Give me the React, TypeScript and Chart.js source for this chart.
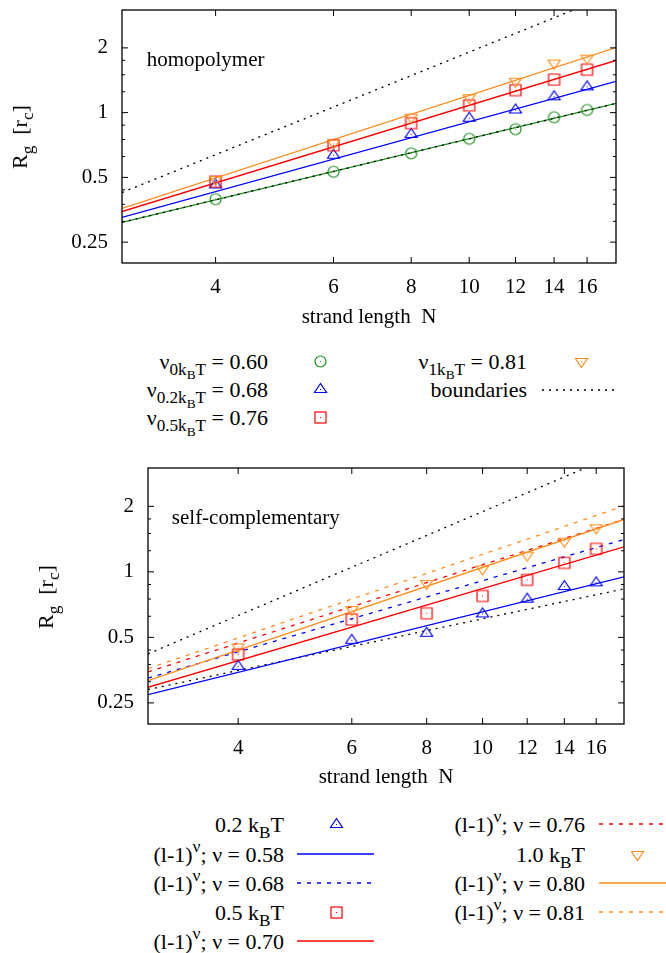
import React, { useEffect, useRef } from 'react';
import { Chart, registerables } from 'chart.js';

Chart.register(...registerables);

// ---------------- data ----------------
const N_VALUES = [4, 6, 8, 10, 12, 14, 16];
const N_TICKS = [4, 6, 8, 10, 12, 14, 16];
const N_RANGE = [3, 18];
const FIT_N = [3, 18];
const Y_TICKS = [0.25, 0.5, 1, 2];
const Y_MINOR = [0.3125, 0.375, 0.4375, 0.625, 0.75, 0.875, 1.25, 1.5, 1.75];
const Y_RANGE = [0.2, 3];

// homopolymer
const HOMO_0 = [0.396, 0.531, 0.647, 0.756, 0.838, 0.952, 1.029];
const HOMO_02 = [0.461, 0.634, 0.792, 0.942, 1.029, 1.185, 1.318];
const HOMO_05 = [0.478, 0.705, 0.893, 1.081, 1.272, 1.424, 1.584];
const HOMO_1 = [0.489, 0.722, 0.952, 1.173, 1.399, 1.7, 1.792];
const HOMO_FIT_0 = [0.309, 1.104];
const HOMO_FIT_02 = [0.326, 1.399];
const HOMO_FIT_05 = [0.347, 1.748];
const HOMO_FIT_1 = [0.359, 2.007];
const HOMO_BOUND_UPPER = [0.425, 3.61];
const HOMO_BOUND_LOWER = [0.309, 1.104];

// self-complementary
const SC_02 = [0.368, 0.485, 0.522, 0.641, 0.749, 0.856, 0.89];
const SC_05 = [0.417, 0.604, 0.645, 0.775, 0.919, 1.1, 1.276];
const SC_1 = [0.452, 0.671, 0.884, 1.032, 1.193, 1.384, 1.593];
const SC_FIT_058 = [0.273, 0.948];
const SC_FIT_068 = [0.325, 1.408];
const SC_FIT_070 = [0.295, 1.303];
const SC_FIT_076 = [0.347, 1.741];
const SC_FIT_080 = [0.316, 1.741];
const SC_FIT_081 = [0.359, 2.007];
const SC_BOUND_UPPER = [0.42, 3.57];
const SC_BOUND_LOWER = [0.288, 0.835];

// ---------------- style ----------------
const FONT = "'Liberation Serif', 'Times New Roman', serif";
const FS = 21;
const LFS = 22;
const GREEN = '#1a8c1a';
const BLUE = '#0000ff';
const RED = '#ff0000';
const ORANGE = '#ff8c1a';
const BLACK = '#000000';
const DOT = [2, 5];
const DASH = [4, 6];
const W = 666;

type Shape = 'circle' | 'triangle' | 'invtriangle' | 'square';

function tracePath(g: CanvasRenderingContext2D | null, shape: Shape, m: number) {
  if (!g) return;
  g.beginPath();
  if (shape === 'circle') g.arc(m, m, 5.5, 0, Math.PI * 2);
  else if (shape === 'square') g.rect(m - 5.5, m - 5.5, 11, 11);
  else if (shape === 'triangle') {
    g.moveTo(m, m - 6);
    g.lineTo(m + 6, m + 3);
    g.lineTo(m - 6, m + 3);
    g.closePath();
  } else {
    g.moveTo(m, m + 6);
    g.lineTo(m + 6, m - 3);
    g.lineTo(m - 6, m - 3);
    g.closePath();
  }
}

function makeMarker(shape: Shape, color: string): HTMLCanvasElement {
  const c = document.createElement('canvas');
  c.width = 17;
  c.height = 17;
  const g = c.getContext('2d')!;
  g.strokeStyle = color;
  g.fillStyle = color;
  g.lineWidth = 1.2;
  tracePath(g, shape, 8.5);
  g.stroke();
  g.fillRect(8, 8, 1, 1);
  return c;
}

const MAJOR = 6;
const MINOR = 3;

const framePlugin = {
  id: 'gnuFrame',
  afterDatasetsDraw(chart: any, _args: any, opts: any) {
    const { ctx, chartArea: a, scales } = chart;
    const xs = scales.x;
    const ys = scales.y;
    ctx.save();
    ctx.strokeStyle = '#000';
    ctx.lineWidth = 1;
    ctx.beginPath();
    const seg = (x1: number, y1: number, x2: number, y2: number) => {
      ctx.moveTo(x1, y1);
      ctx.lineTo(x2, y2);
    };
    N_TICKS.forEach((n) => {
      const px = xs.getPixelForValue(n - 1);
      seg(px, a.bottom, px, a.bottom - MAJOR);
      seg(px, a.top, px, a.top + MAJOR);
    });
    Y_TICKS.forEach((v) => {
      const py = ys.getPixelForValue(v);
      seg(a.left, py, a.left + MAJOR, py);
      seg(a.right, py, a.right - MAJOR, py);
    });
    Y_MINOR.forEach((v) => {
      const py = ys.getPixelForValue(v);
      seg(a.left, py, a.left + MINOR, py);
      seg(a.right, py, a.right - MINOR, py);
    });
    ctx.stroke();
    ctx.lineWidth = 1.3;
    ctx.strokeRect(a.left, a.top, a.right - a.left, a.bottom - a.top);
    ctx.font = `${FS}px ${FONT}`;
    ctx.fillStyle = '#000';
    ctx.textAlign = 'left';
    ctx.textBaseline = 'alphabetic';
    ctx.fillText(opts.label, a.left + (a.right - a.left) * 0.05, a.top + (a.bottom - a.top) * 0.22);
    ctx.restore();
  },
};

const pts = (vals: number[]) => N_VALUES.map((n, i) => ({ x: n - 1, y: vals[i] }));
const fit = (vals: number[]) => FIT_N.map((n, i) => ({ x: n - 1, y: vals[i] }));

interface PlotProps {
  build: () => any[];
  label: string;
  areaLeft: number;
  areaRight: number;
  areaTop: number;
  areaBottom: number;
  height: number;
  top: number;
}

function Plot({ build, label, areaLeft, areaRight, areaTop, areaBottom, height, top }: PlotProps) {
  const ref = useRef<HTMLCanvasElement | null>(null);
  useEffect(() => {
    if (!ref.current) return;
    const tickFont = { family: FONT, size: FS };
    const chart = new Chart(ref.current, {
      type: 'line',
      data: { datasets: build() },
      options: {
        animation: false,
        responsive: false,
        devicePixelRatio: 1,
        events: [],
        layout: { padding: { left: 0, top: areaTop, right: W - areaRight, bottom: 0 } },
        plugins: {
          legend: { display: false },
          tooltip: { enabled: false },
          gnuFrame: { label },
        } as any,
        scales: {
          x: {
            type: 'logarithmic',
            min: N_RANGE[0] - 1,
            max: N_RANGE[1] - 1,
            grid: { display: false, drawTicks: false },
            border: { display: false },
            ticks: {
              font: tickFont,
              color: '#000',
              padding: 12,
              maxRotation: 0,
              autoSkip: false,
              callback: (v: any) => String(Math.round(Number(v) + 1)),
            },
            afterBuildTicks: (s: any) => {
              s.ticks = N_TICKS.map((n) => ({ value: n - 1 }));
            },
            afterFit: (s: any) => {
              s.height = height - areaBottom;
              s.paddingLeft = 0;
              s.paddingRight = 0;
            },
            title: {
              display: true,
              text: 'strand length  N',
              font: tickFont,
              color: '#000',
              padding: 0,
            },
          } as any,
          y: {
            type: 'logarithmic',
            min: Y_RANGE[0],
            max: Y_RANGE[1],
            grid: { display: false, drawTicks: false },
            border: { display: false },
            ticks: {
              font: tickFont,
              color: '#000',
              padding: 14,
              autoSkip: false,
              callback: (v: any) => String(v),
            },
            afterBuildTicks: (s: any) => {
              s.ticks = Y_TICKS.map((v) => ({ value: v }));
            },
            afterFit: (s: any) => {
              s.width = areaLeft;
              s.paddingTop = 0;
              s.paddingBottom = 0;
            },
          } as any,
        },
      },
      plugins: [framePlugin],
    });
    return () => chart.destroy();
  }, []);
  return (
    <canvas
      ref={ref}
      width={W}
      height={height}
      style={{ position: 'absolute', left: 0, top, width: W, height }}
    />
  );
}

function scatterDs(vals: number[], marker: HTMLCanvasElement) {
  return {
    data: pts(vals),
    showLine: false,
    pointStyle: marker,
    pointRadius: 6,
    borderColor: 'rgba(0,0,0,0)',
    backgroundColor: 'rgba(0,0,0,0)',
  };
}

function lineDs(vals: number[], color: string, dash: number[]) {
  return {
    data: fit(vals),
    borderColor: color,
    borderWidth: 1.3,
    borderDash: dash,
    pointRadius: 0,
    fill: false,
    tension: 0,
  };
}

const buildHomo = () => [
  scatterDs(HOMO_1, makeMarker('invtriangle', ORANGE)),
  scatterDs(HOMO_05, makeMarker('square', RED)),
  scatterDs(HOMO_02, makeMarker('triangle', BLUE)),
  scatterDs(HOMO_0, makeMarker('circle', GREEN)),
  lineDs(HOMO_BOUND_UPPER, BLACK, DOT),
  lineDs(HOMO_BOUND_LOWER, BLACK, DOT),
  lineDs(HOMO_FIT_1, ORANGE, []),
  lineDs(HOMO_FIT_05, RED, []),
  lineDs(HOMO_FIT_02, BLUE, []),
  lineDs(HOMO_FIT_0, GREEN, []),
];

const buildSC = () => [
  scatterDs(SC_1, makeMarker('invtriangle', ORANGE)),
  scatterDs(SC_05, makeMarker('square', RED)),
  scatterDs(SC_02, makeMarker('triangle', BLUE)),
  lineDs(SC_FIT_081, ORANGE, DASH),
  lineDs(SC_FIT_080, ORANGE, []),
  lineDs(SC_FIT_076, RED, DASH),
  lineDs(SC_FIT_070, RED, []),
  lineDs(SC_FIT_068, BLUE, DASH),
  lineDs(SC_FIT_058, BLUE, []),
  lineDs(SC_BOUND_UPPER, BLACK, DOT),
  lineDs(SC_BOUND_LOWER, BLACK, DOT),
];

// ---------------- HTML text helpers ----------------
const Sub = ({ children }: { children: React.ReactNode }) => (
  <span style={{ fontSize: '0.78em', position: 'relative', top: '0.36em', lineHeight: 0 }}>{children}</span>
);
const Sup = ({ children }: { children: React.ReactNode }) => (
  <span style={{ fontSize: '0.8em', position: 'relative', top: '-0.55em', lineHeight: 0 }}>{children}</span>
);

function MarkerSvg({ shape, color, cx, cy }: { shape: Shape; color: string; cx: number; cy: number }) {
  const m = 8.5;
  let el: React.ReactNode;
  if (shape === 'circle') el = <circle cx={m} cy={m} r={5.5} />;
  else if (shape === 'square') el = <rect x={m - 5.5} y={m - 5.5} width={11} height={11} />;
  else if (shape === 'triangle') el = <polygon points={`${m},${m - 6} ${m + 6},${m + 3} ${m - 6},${m + 3}`} />;
  else el = <polygon points={`${m},${m + 6} ${m + 6},${m - 3} ${m - 6},${m - 3}`} />;
  return (
    <svg
      width={17}
      height={17}
      style={{ position: 'absolute', left: cx - 8.5, top: cy - 8.5, overflow: 'visible' }}
    >
      <g fill="none" stroke={color} strokeWidth={1.2}>
        {el}
      </g>
      <rect x={8} y={8} width={1} height={1} fill={color} />
    </svg>
  );
}

function LineSvg({ x1, x2, y, color, dash }: { x1: number; x2: number; y: number; color: string; dash: number[] }) {
  return (
    <svg width={x2 - x1} height={6} style={{ position: 'absolute', left: x1, top: y - 3, overflow: 'hidden' }}>
      <line
        x1={0}
        y1={3}
        x2={x2 - x1}
        y2={3}
        stroke={color}
        strokeWidth={1.3}
        strokeDasharray={dash.length ? dash.join(' ') : undefined}
      />
    </svg>
  );
}

function LText({ right, y, children }: { right: number; y: number; children: React.ReactNode }) {
  return (
    <div
      style={{
        position: 'absolute',
        right: W - right,
        top: y - 12.5,
        lineHeight: '25px',
        fontSize: LFS,
        whiteSpace: 'nowrap',
        textAlign: 'right',
      }}
    >
      {children}
    </div>
  );
}

function YTitle({ cx, cy }: { cx: number; cy: number }) {
  return (
    <div
      style={{
        position: 'absolute',
        left: cx,
        top: cy,
        transform: 'translate(-50%, -50%) rotate(-90deg)',
        whiteSpace: 'nowrap',
        lineHeight: '24px',
        fontSize: 22,
      }}
    >
      R<Sub>g</Sub>&nbsp;&nbsp;[r<Sub>c</Sub>]
    </div>
  );
}

const NuK = ({ k }: { k: string }) => (
  <>
    ν
    <Sub>
      {k}k<Sub>B</Sub>T
    </Sub>
  </>
);

const LNu = ({ v }: { v: string }) => (
  <>
    (l-1)<Sup>ν</Sup>; ν = {v}
  </>
);

export default function App() {
  const TR = [361, 389.5, 417.5];
  const BR = [824, 854, 883, 912, 941];
  return (
    <div
      style={{
        position: 'absolute',
        left: 0,
        top: 0,
        width: W,
        height: 953,
        overflow: 'hidden',
        background: '#fff',
        fontFamily: FONT,
        fontSize: FS,
        color: '#000',
      }}
    >
      <Plot
        build={buildHomo}
        label="homopolymer"
        areaLeft={122}
        areaRight={616}
        areaTop={10}
        areaBottom={263}
        height={330}
        top={0}
      />
      <Plot
        build={buildSC}
        label="self-complementary"
        areaLeft={148}
        areaRight={624}
        areaTop={8}
        areaBottom={264}
        height={330}
        top={460}
      />
      <YTitle cx={20} cy={137} />
      <YTitle cx={46} cy={597} />

      {/* top legend */}
      <LText right={268} y={TR[0]}>
        <NuK k="0" /> = 0.60
      </LText>
      <MarkerSvg shape="circle" color={GREEN} cx={320} cy={TR[0]} />
      <LText right={268} y={TR[1]}>
        <NuK k="0.2" /> = 0.68
      </LText>
      <MarkerSvg shape="triangle" color={BLUE} cx={320} cy={TR[1]} />
      <LText right={268} y={TR[2]}>
        <NuK k="0.5" /> = 0.76
      </LText>
      <MarkerSvg shape="square" color={RED} cx={320} cy={TR[2]} />
      <LText right={527} y={TR[0]}>
        <NuK k="1" /> = 0.81
      </LText>
      <MarkerSvg shape="invtriangle" color={ORANGE} cx={581} cy={TR[0]} />
      <LText right={527} y={TR[1]}>
        boundaries
      </LText>
      <LineSvg x1={542} x2={618} y={TR[1]} color={BLACK} dash={DOT} />

      {/* bottom legend */}
      <LText right={284} y={BR[0]}>
        0.2 k<Sub>B</Sub>T
      </LText>
      <MarkerSvg shape="triangle" color={BLUE} cx={336} cy={BR[0]} />
      <LText right={284} y={BR[1]}>
        <LNu v="0.58" />
      </LText>
      <LineSvg x1={297} x2={374} y={BR[1]} color={BLUE} dash={[]} />
      <LText right={284} y={BR[2]}>
        <LNu v="0.68" />
      </LText>
      <LineSvg x1={297} x2={374} y={BR[2]} color={BLUE} dash={DASH} />
      <LText right={284} y={BR[3]}>
        0.5 k<Sub>B</Sub>T
      </LText>
      <MarkerSvg shape="square" color={RED} cx={336} cy={BR[3]} />
      <LText right={284} y={BR[4]}>
        <LNu v="0.70" />
      </LText>
      <LineSvg x1={297} x2={374} y={BR[4]} color={RED} dash={[]} />

      <LText right={585} y={BR[0]}>
        <LNu v="0.76" />
      </LText>
      <LineSvg x1={599} x2={676} y={BR[0]} color={RED} dash={DASH} />
      <LText right={585} y={BR[1]}>
        1.0 k<Sub>B</Sub>T
      </LText>
      <MarkerSvg shape="invtriangle" color={ORANGE} cx={637} cy={BR[1]} />
      <LText right={585} y={BR[2]}>
        <LNu v="0.80" />
      </LText>
      <LineSvg x1={599} x2={676} y={BR[2]} color={ORANGE} dash={[]} />
      <LText right={585} y={BR[3]}>
        <LNu v="0.81" />
      </LText>
      <LineSvg x1={599} x2={676} y={BR[3]} color={ORANGE} dash={DASH} />
    </div>
  );
}
